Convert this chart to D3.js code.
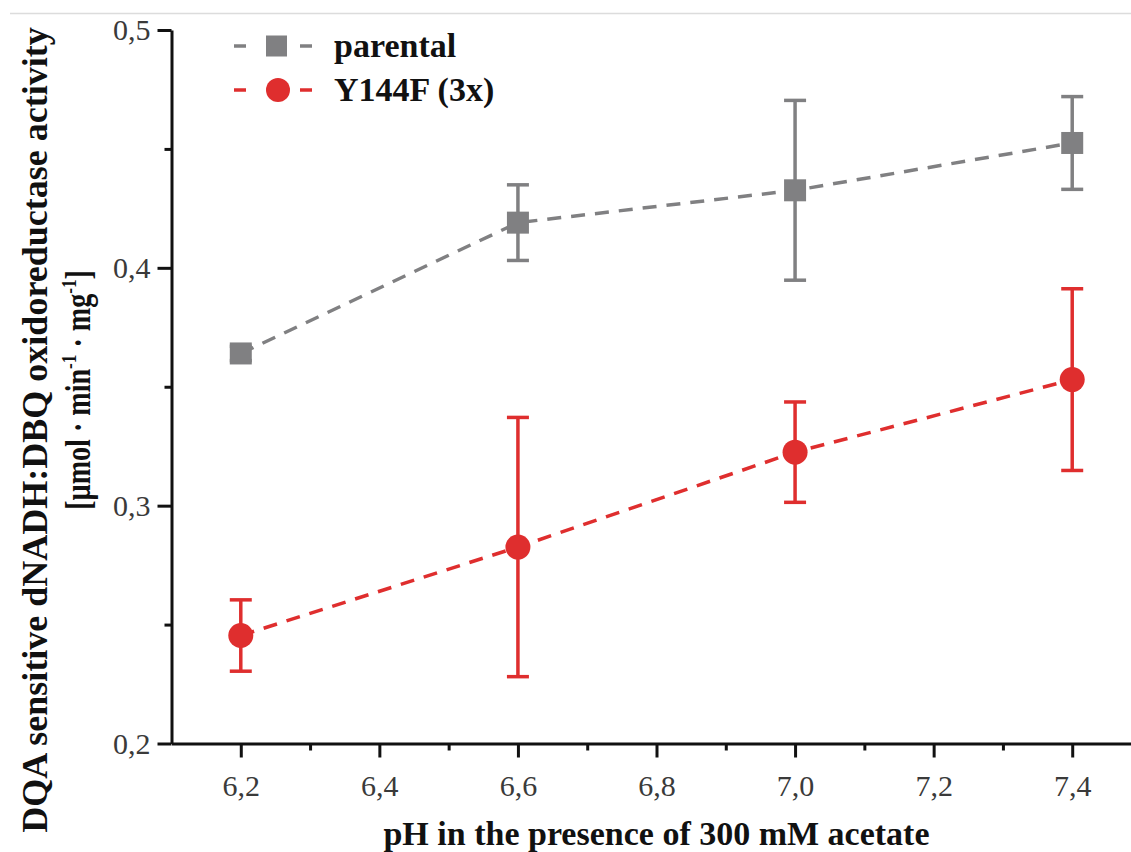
<!DOCTYPE html>
<html>
  <head>
    <meta charset="utf-8">
    <title></title>
    <style>
      body, html{
        margin: 0;
        width: 100%;
        height: 100%;
        background: #fff;
      }
      svg text{
        font-family: "Liberation Serif", "DejaVu Serif", serif;
      }
      .tick text{
        fill: #3a3a3a;
        font-size: 30px;
      }
      .lbl{
        font-weight: bold;
        font-size: 34px;
        fill: #111;
      }
    </style>
  </head>
  <body>
    <svg id="chart" width="1131" height="852"></svg>
    <script src="https://cdn.jsdelivr.net/npm/d3@7"></script>
    <script>

// values
var ph = [6.2, 6.6, 7.0, 7.4]
var parental = [0.364, 0.419, 0.4326, 0.4525]
var parentalErr = [0.003, 0.0159, 0.0378, 0.0195]
var mutant = [0.2454, 0.2826, 0.3225, 0.3530]
var mutantErr = [0.0150, 0.0545, 0.0211, 0.0382]
var seriesNames = ['parental', 'Y144F (3x)']
var xTicks = [6.2, 6.4, 6.6, 6.8, 7.0, 7.2, 7.4]
var xMinor = [6.3, 6.5, 6.7, 6.9, 7.1, 7.3, 7.5]
var yTicks = [0.2, 0.3, 0.4, 0.5]
var yMinor = [0.25, 0.35, 0.45]

var grey = '#808082', red = '#df2e2e'

var svg = d3.select('#chart')
var x = d3.scaleLinear().domain([6.1, 7.5]).range([171.5, 1141.5])
var y = d3.scaleLinear().domain([0.2, 0.5]).range([743.5, 30])
var fmt = function(d){ return d3.format('.1f')(d).replace('.', ',') }

// faint frame line at the top
svg.append('line').attr('x1', 10).attr('x2', 1131).attr('y1', 13.5).attr('y2', 13.5)
  .attr('stroke', '#dcdcdc').attr('stroke-width', 1.5)

function styleAxis(g){
  g.attr('font-family', null).attr('font-size', null)
  g.selectAll('path.domain').attr('stroke', '#111').attr('stroke-width', 3)
  g.selectAll('.tick line').attr('stroke', '#111').attr('stroke-width', 3)
}

// x axis
svg.append('g').attr('transform', 'translate(0,' + y(0.2) + ')')
  .call(d3.axisBottom(x).tickValues(xMinor).tickSize(7).tickSizeOuter(0).tickFormat(''))
  .call(styleAxis)
svg.append('g').attr('transform', 'translate(0,' + y(0.2) + ')')
  .call(d3.axisBottom(x).tickValues(xTicks).tickSize(14).tickSizeOuter(0).tickPadding(17).tickFormat(fmt))
  .call(styleAxis)
  .call(function(g){ g.select('.domain').remove() })

// y axis
svg.append('g').attr('transform', 'translate(' + x(6.1) + ',0)')
  .call(d3.axisLeft(y).tickValues(yMinor).tickSize(7).tickSizeOuter(0).tickFormat(''))
  .call(styleAxis)
svg.append('g').attr('transform', 'translate(' + x(6.1) + ',0)')
  .call(d3.axisLeft(y).tickValues(yTicks).tickSize(14).tickSizeOuter(0).tickPadding(7).tickFormat(fmt))
  .call(styleAxis)
  .call(function(g){ g.select('.domain').remove() })

// axis titles
svg.append('text').attr('class', 'lbl')
  .attr('x', x(6.8)).attr('y', 845).attr('text-anchor', 'middle')
  .text('pH in the presence of 300 mM acetate')

svg.append('text').attr('class', 'lbl').style('font-size', '36px')
  .attr('transform', 'translate(47,430) rotate(-90)').attr('text-anchor', 'middle')
  .text('DQA sensitive dNADH:DBQ oxidoreductase activity')

// the unit line is squeezed along its length, as in the original
var unit = svg.append('text').attr('class', 'lbl').style('font-size', '36px')
  .attr('transform', 'translate(90,390) rotate(-90) scale(0.78,1)').attr('text-anchor', 'middle')
unit.append('tspan').text('[\u00b5mol \u00b7 min')
unit.append('tspan').attr('dy', -14).style('font-size', '22px').text('-1')
unit.append('tspan').attr('dy', 14).text(' \u00b7 mg')
unit.append('tspan').attr('dy', -14).style('font-size', '22px').text('-1')
unit.append('tspan').attr('dy', 14).text(']')

// series
function drawSeries(vals, errs, color, shape){
  var pts = ph.map(function(p, i){ return {x: p, v: vals[i], e: errs[i]} })
  var g = svg.append('g')
  g.append('path').datum(pts)
    .attr('d', d3.line().x(function(d){ return x(d.x) }).y(function(d){ return y(d.v) }))
    .attr('fill', 'none').attr('stroke', color).attr('stroke-width', 3.5)
    .attr('stroke-dasharray', '14,10')
  var eb = g.selectAll('g.err').data(pts).enter().append('g')
  eb.append('line')
    .attr('x1', function(d){ return x(d.x) }).attr('x2', function(d){ return x(d.x) })
    .attr('y1', function(d){ return y(d.v + d.e) }).attr('y2', function(d){ return y(d.v - d.e) })
  eb.append('line')
    .attr('x1', function(d){ return x(d.x) - 11 }).attr('x2', function(d){ return x(d.x) + 11 })
    .attr('y1', function(d){ return y(d.v + d.e) }).attr('y2', function(d){ return y(d.v + d.e) })
  eb.append('line')
    .attr('x1', function(d){ return x(d.x) - 11 }).attr('x2', function(d){ return x(d.x) + 11 })
    .attr('y1', function(d){ return y(d.v - d.e) }).attr('y2', function(d){ return y(d.v - d.e) })
  eb.selectAll('line').attr('stroke', color).attr('stroke-width', 3.5)
  if(shape == 'square'){
    g.selectAll('rect').data(pts).enter().append('rect')
      .attr('x', function(d){ return x(d.x) - 11 }).attr('y', function(d){ return y(d.v) - 11 })
      .attr('width', 22).attr('height', 22).attr('fill', color)
  } else {
    g.selectAll('circle').data(pts).enter().append('circle')
      .attr('cx', function(d){ return x(d.x) }).attr('cy', function(d){ return y(d.v) })
      .attr('r', 12.5).attr('fill', color)
  }
}
drawSeries(parental, parentalErr, grey, 'square')
drawSeries(mutant, mutantErr, red, 'circle')

// legend
var legend = svg.append('g')
var items = [{name: seriesNames[0], color: grey, shape: 'square', cy: 46},
             {name: seriesNames[1], color: red, shape: 'circle', cy: 90}]
items.forEach(function(it){
  legend.append('line').attr('x1', 234).attr('x2', 246).attr('y1', it.cy).attr('y2', it.cy)
    .attr('stroke', it.color).attr('stroke-width', 3.5)
  legend.append('line').attr('x1', 300).attr('x2', 312).attr('y1', it.cy).attr('y2', it.cy)
    .attr('stroke', it.color).attr('stroke-width', 3.5)
  if(it.shape == 'square'){
    legend.append('rect').attr('x', 266).attr('y', it.cy - 10.5).attr('width', 21).attr('height', 21)
      .attr('fill', it.color)
  } else {
    legend.append('circle').attr('cx', 278).attr('cy', it.cy).attr('r', 12).attr('fill', it.color)
  }
  legend.append('text').attr('class', 'lbl').attr('x', 334).attr('y', it.cy + 11).text(it.name)
})
    </script>
  </body>
</html>
